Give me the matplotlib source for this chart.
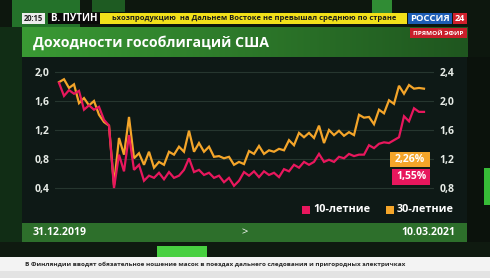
import matplotlib
matplotlib.use("Agg")
import matplotlib.pyplot as plt
import matplotlib.patches as mpatches
from matplotlib.ticker import FuncFormatter
import numpy as np

plt.rcParams['font.family'] = ['Open Sans', 'DejaVu Sans']

# ---------------- data ----------------
title = "Доходности гособлигаций США"
start_label = "31.12.2019"
end_label = "10.03.2021"
series_names = ["10-летние", "30-летние"]
last_labels = ["1,55%", "2,26%"]

yield_10y = [1.85, 1.67, 1.75, 1.70, 1.74, 1.48, 1.54, 1.48, 1.52, 1.34,
             1.26, 0.40, 0.86, 0.63, 1.13, 0.65, 0.72, 0.50, 0.57, 0.54,
             0.61, 0.52, 0.62, 0.54, 0.57, 0.65, 0.81, 0.62, 0.65, 0.58,
             0.61, 0.54, 0.57, 0.48, 0.54, 0.43, 0.50, 0.62, 0.57, 0.63,
             0.55, 0.63, 0.58, 0.61, 0.55, 0.66, 0.63, 0.72, 0.68, 0.76,
             0.72, 0.76, 0.87, 0.76, 0.79, 0.76, 0.83, 0.81, 0.87, 0.84,
             0.86, 0.86, 0.99, 0.95, 1.01, 1.03, 1.02, 1.06, 1.10, 1.39,
             1.32, 1.50, 1.45, 1.45]

yield_30y = [2.26, 2.30, 2.18, 2.23, 1.97, 2.04, 1.94, 2.00, 1.81, 1.71,
             1.66, 0.84, 1.49, 1.26, 1.78, 1.21, 1.28, 1.12, 1.30, 1.08,
             1.16, 1.12, 1.30, 1.26, 1.37, 1.30, 1.59, 1.30, 1.42, 1.30,
             1.37, 1.23, 1.24, 1.21, 1.23, 1.12, 1.16, 1.13, 1.31, 1.27,
             1.38, 1.27, 1.32, 1.30, 1.34, 1.32, 1.46, 1.39, 1.56, 1.50,
             1.56, 1.49, 1.66, 1.42, 1.60, 1.53, 1.59, 1.52, 1.57, 1.53,
             1.81, 1.77, 1.78, 1.68, 1.88, 1.83, 2.01, 1.96, 2.21, 2.10,
             2.22, 2.17, 2.18, 2.17]

left_ticks = [0.4, 0.8, 1.2, 1.6, 2.0]
right_ticks = [0.8, 1.2, 1.6, 2.0, 2.4]

RED = "#e8175d"
ORANGE = "#f4a52a"

# ---------------- figure ----------------
W, H = 490, 278
fig = plt.figure(figsize=(W / 100, H / 100), dpi=100)
fig.patch.set_facecolor("#0c140d")


def make_canvas(z):
    a = fig.add_axes([0, 0, 1, 1], zorder=z)
    a.set_xlim(0, W)
    a.set_ylim(H, 0)
    a.axis("off")
    a.patch.set_visible(False)
    return a


bg = make_canvas(0)


def rect(x0, y0, x1, y1, color, alpha=1.0, z=1, on=None):
    (on or bg).add_patch(mpatches.Rectangle((x0, y0), x1 - x0, y1 - y0, facecolor=color,
                                            edgecolor="none", alpha=alpha, zorder=z))


def hgrad(x0, y0, x1, y1, c0, c1, z=1):
    c0 = np.array(matplotlib.colors.to_rgb(c0))
    c1 = np.array(matplotlib.colors.to_rgb(c1))
    t = np.linspace(0, 1, 256)[None, :, None]
    img = c0 * (1 - t) + c1 * t
    bg.imshow(img, extent=(x0, x1, y1, y0), aspect="auto", zorder=z, interpolation="bilinear")


# studio background
rect(0, 0, W, H, "#0d170e", z=0)
rect(12, 0, 80, 27, "#2f9a36", alpha=0.7, z=0.5)
rect(92, 0, 125, 12, "#2a8a30", alpha=0.6, z=0.5)
rect(372, 0, 392, 14, "#3fbf45", alpha=0.7, z=0.5)
rect(0, 27, 22, 256, "#123016", alpha=0.9, z=0.5)

# title band
hgrad(22, 27, 467, 57, "#3a9a34", "#1f561f", z=1)
bg.text(33, 43, title, color="white", fontsize=10.2, fontweight="bold",
        ha="left", va="center", zorder=5)

# top ticker
rect(22, 13, 45, 24, "#ececec", z=3)
bg.text(33.5, 18.6, "20:15", color="#222222", fontsize=5.5, fontweight="bold",
        ha="center", va="center", zorder=5)
rect(48, 13, 100, 24, "#0a0a0a", z=3)
bg.text(74, 18.6, "В. ПУТИН", color="white", fontsize=7, fontweight="bold",
        ha="center", va="center", zorder=5)
rect(100, 13, 407, 24, "#f2e01a", z=3)
bg.text(112, 18.6, "ьхозпродукцию  на Дальнем Востоке не превышал среднюю по стране",
        color="#1a1a1a", fontsize=5.4, fontweight="bold", ha="left", va="center", zorder=5)
rect(408, 13, 452, 24, "#1d5db5", z=3)
bg.text(430, 18.6, "РОССИЯ", color="white", fontsize=6.8, fontweight="bold",
        ha="center", va="center", zorder=5)
rect(453, 13, 467, 24, "#d0202c", z=3)
bg.text(460, 18.6, "24", color="white", fontsize=6.5, fontweight="bold",
        ha="center", va="center", zorder=5)
rect(410, 28, 467, 38, "#c81e2a", z=3)
bg.text(438.5, 33.2, "ПРЯМОЙ ЭФИР", color="white", fontsize=4.6, fontweight="bold",
        ha="center", va="center", zorder=5)

# chart panel
rect(22, 57, 467, 223, "#0e1916", z=1)
rect(467, 57, 490, 256, "#0b120c", z=1)
rect(484, 168, 490, 205, "#3ccf3c", alpha=0.9, z=1.5)

# date bar
rect(22, 223, 467, 242, "#2d6f2b", z=2)
bg.text(33, 232.5, start_label, color="white", fontsize=7.6, fontweight="bold",
        ha="left", va="center", zorder=5)
bg.text(455, 232.5, end_label, color="white", fontsize=7.6, fontweight="bold",
        ha="right", va="center", zorder=5)
bg.text(245, 232.5, ">", color="white", fontsize=8, ha="center", va="center", zorder=5)

# below date bar
rect(0, 242, W, 257, "#0f1a10", z=1)
rect(157, 246, 207, 257, "#48d040", z=1.5)

# bottom news ticker
rect(0, 257, W, 278, "#f3f3f3", z=2)
rect(0, 271, W, 278, "#e3e3e3", z=2.1)
bg.text(25, 264, "В Финляндии вводят обязательное ношение масок в поездах дальнего следования и пригородных электричках",
        color="#2a2a2a", fontsize=4.6, fontweight="bold", ha="left", va="center", zorder=5)

# legend
rect(302, 206, 310, 214, RED, z=3)
bg.text(313, 210, series_names[0], color="white", fontsize=7.8, fontweight="bold",
        ha="left", va="center", zorder=5)
rect(386, 206, 394, 214, ORANGE, z=3)
bg.text(397, 210, series_names[1], color="white", fontsize=7.8, fontweight="bold",
        ha="left", va="center", zorder=5)

# ---------------- chart axes ----------------
def px_box(l, t, r, b):
    return [l / W, 1 - b / H, (r - l) / W, (b - t) / H]


ax2 = fig.add_axes(px_box(55, 60, 434, 200), zorder=2)
ax = fig.add_axes(px_box(55, 60, 434, 200), zorder=3, sharex=ax2)
for a in (ax, ax2):
    a.patch.set_visible(False)
ax2.yaxis.tick_right()
ax.yaxis.tick_left()

x = np.arange(len(yield_10y))
ax.set_xlim(-0.8, 75.0)
ax.set_ylim(0.2345, 2.1655)
ax2.set_ylim(0.6345, 2.5655)

ax2.plot(np.arange(len(yield_30y)), yield_30y, color=ORANGE, lw=1.6, solid_joinstyle="miter")
ax.plot(x, yield_10y, color=RED, lw=1.6, solid_joinstyle="miter")

fmt = FuncFormatter(lambda v, p: f"{v:.1f}".replace(".", ","))
ax.set_yticks(left_ticks)
ax2.set_yticks(right_ticks)
ax.yaxis.set_major_formatter(fmt)
ax2.yaxis.set_major_formatter(fmt)
ax.set_xticks([])
ax2.set_xticks([])
ax2.yaxis.grid(True, color="#26362f", lw=0.8)
ax2.set_axisbelow(True)
for a in (ax, ax2):
    for s in a.spines.values():
        s.set_visible(False)
    a.tick_params(length=0, labelsize=7.5, labelcolor="#e6ebe6", pad=4)
for lbl in ax.get_yticklabels() + ax2.get_yticklabels():
    lbl.set_fontweight("bold")

# last-value labels (on top of the chart)
fg = make_canvas(10)
rect(390, 152, 430, 167, ORANGE, z=3, on=fg)
fg.text(410, 159.6, last_labels[1], color="white", fontsize=7.5, fontweight="bold",
        ha="center", va="center", zorder=5)
rect(392, 169, 430, 185, RED, z=3, on=fg)
fg.text(411, 177, last_labels[0], color="white", fontsize=7.5, fontweight="bold",
        ha="center", va="center", zorder=5)

fig.savefig("out.png", dpi=100, facecolor=fig.get_facecolor())
